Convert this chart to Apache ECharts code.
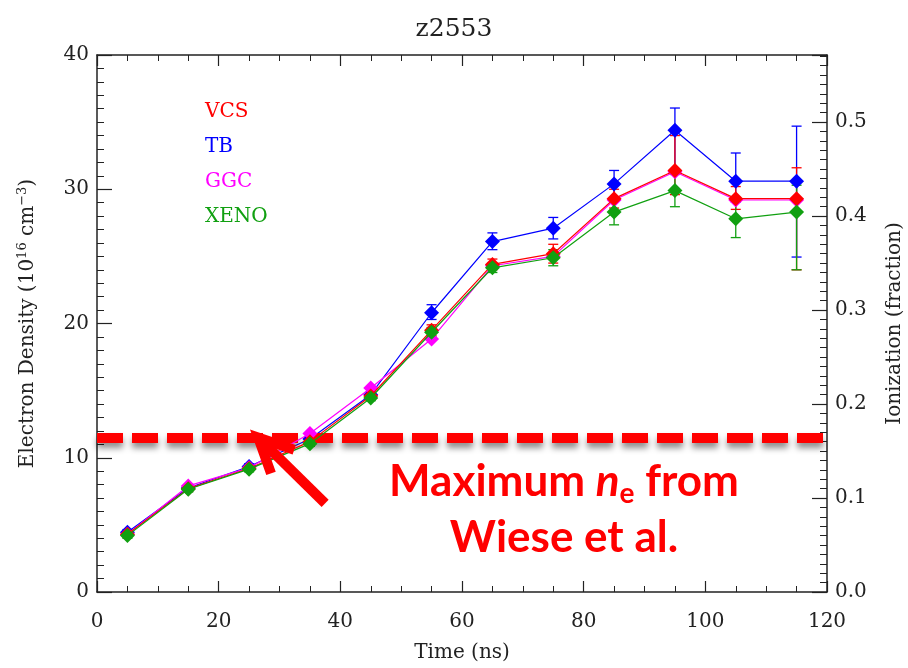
<!DOCTYPE html>
<html>
<head>
<meta charset="utf-8">
<script src="https://cdn.jsdelivr.net/npm/echarts@6/dist/echarts.min.js"></script>
<style>html,body{margin:0;padding:0;background:#fff}#c{width:908px;height:668px}</style>
</head>
<body>
<div id="c"></div>
<script>
// ---- data ----
const times = [5, 15, 25, 35, 45, 55, 65, 75, 85, 95, 105, 115];
const vcs   = [4.3, 7.7, 9.2, 11.2, 14.6, 19.5, 24.4, 25.2, 29.3, 31.4, 29.3, 29.3];
const vcsLo = [4.1, 7.5, 9.0, 11.0, 14.4, 19.1, 24.0, 24.5, 28.6, 29.6, 28.5, 24.0];
const vcsHi = [4.5, 7.9, 9.4, 11.4, 14.8, 19.9, 24.8, 25.9, 30.0, 34.0, 30.2, 31.6];
const tb    = [4.45, 7.75, 9.35, 11.4, 14.7, 20.8, 26.1, 27.1, 30.4, 34.4, 30.6, 30.6];
const tbLo  = [4.25, 7.55, 9.15, 11.2, 14.5, 20.3, 25.5, 26.3, 29.3, 31.3, 29.05, 24.95];
const tbHi  = [4.65, 7.95, 9.55, 11.6, 14.9, 21.4, 26.75, 27.9, 31.4, 36.05, 32.7, 34.7];
const ggc   = [4.3, 7.9, 9.25, 11.8, 15.2, 18.85, 24.3, 25.0, 29.2, 31.3, 29.2, 29.2];
const xeno  = [4.2, 7.65, 9.15, 11.05, 14.45, 19.35, 24.15, 24.9, 28.3, 29.9, 27.8, 28.3];
const xenoLo= [4.0, 7.45, 8.95, 10.85, 14.25, 19.0, 23.8, 24.3, 27.35, 28.7, 26.4, 24.0];
const xenoHi= [4.4, 7.85, 9.35, 11.25, 14.65, 19.7, 24.5, 25.5, 29.2, 31.1, 29.4, 30.3];
const seriesNames = ['VCS', 'TB', 'GGC', 'XENO'];
const xTicks = [0, 20, 40, 60, 80, 100, 120];
const yTicks = [0, 10, 20, 30, 40];
const ionTicks = [0.0, 0.1, 0.2, 0.3, 0.4, 0.5];
const maxNe = 11.47;           // Wiese et al. maximum
const arrowTip = [26.5, 11.5];
const arrowTail = [37.5, 6.6];
const ionPerDensity = 0.1 / 7; // 0.1 ionization fraction per 7e16 cm^-3

const colors = {VCS: '#ff0000', TB: '#0000ff', GGC: '#ff00ff', XENO: '#11a011'};
const serif = '"DejaVu Serif", "Liberation Serif", serif';

function pairs(v) { return times.map((t, i) => [t, v[i]]); }
function errData(lo, hi) { return times.map((t, i) => [t, lo[i], hi[i]]); }

function errSeries(name, lo, hi) {
  return {
    type: 'custom', name: name, z: 3,
    data: errData(lo, hi),
    renderItem: function (params, api) {
      const x = api.value(0);
      const p1 = api.coord([x, api.value(1)]);
      const p2 = api.coord([x, api.value(2)]);
      const w = 5;
      const st = {stroke: colors[name], lineWidth: 1.3};
      return {type: 'group', children: [
        {type: 'line', shape: {x1: p1[0], y1: p1[1], x2: p2[0], y2: p2[1]}, style: st},
        {type: 'line', shape: {x1: p1[0] - w, y1: p1[1], x2: p1[0] + w, y2: p1[1]}, style: st},
        {type: 'line', shape: {x1: p2[0] - w, y1: p2[1], x2: p2[0] + w, y2: p2[1]}, style: st}
      ]};
    }
  };
}
function lineSeries(name, v, z) {
  return {
    type: 'line', name: name, data: pairs(v), z: z,
    symbol: 'diamond', symbolSize: 15,
    lineStyle: {color: colors[name], width: 1.2},
    itemStyle: {color: colors[name]},
    animation: false
  };
}

const chart = echarts.init(document.getElementById('c'));
const tickLabel = {fontFamily: serif, fontSize: 20, color: '#222'};
const axLine = {onZero: false, lineStyle: {color: '#222', width: 1.5}};

const option = {
  animation: false,
  backgroundColor: '#fff',
  title: {text: 'z2553', left: 'center', top: 12,
    textStyle: {fontFamily: serif, fontWeight: 'normal', fontSize: 25, color: '#222'}},
  legend: {
    orient: 'vertical', left: 200, top: 97, itemGap: 15,
    itemWidth: 0, itemHeight: 0, icon: 'rect',
    data: seriesNames.map(n => ({name: n, textStyle: {color: colors[n]}})),
    textStyle: {fontFamily: serif, fontSize: 20, padding: [0, 0, 0, -5]},
    selectedMode: false
  },
  grid: {left: 97, right: 81, top: 55, bottom: 76, containLabel: false, outerBoundsMode: 'none'},
  xAxis: [{
    type: 'value', min: 0, max: 120, interval: 20, position: 'bottom',
    name: 'Time (ns)', nameLocation: 'middle', nameGap: 51,
    nameTextStyle: {fontFamily: serif, fontSize: 20, color: '#222'},
    axisLine: axLine,
    axisTick: {inside: true, length: 11, lineStyle: {color: '#222', width: 1.2}},
    minorTick: {show: true, splitNumber: 4, length: 6, lineStyle: {color: '#222', width: 1}},
    splitLine: {show: false},
    axisLabel: Object.assign({margin: 20, formatter: v => xTicks.includes(v) ? String(v) : ''}, tickLabel)
  }, {
    type: 'value', min: 0, max: 120, interval: 20, position: 'top',
    axisLine: axLine,
    axisTick: {inside: true, length: 11, lineStyle: {color: '#222', width: 1.2}},
    minorTick: {show: true, splitNumber: 4, length: 6, lineStyle: {color: '#222', width: 1}},
    splitLine: {show: false}, axisLabel: {show: false}
  }],
  yAxis: [{
    type: 'value', min: 0, max: 40, interval: 10, position: 'left',
    name: 'Electron Density (10{sup|16} cm{sup|−3})', nameLocation: 'middle', nameGap: 58,
    nameTextStyle: {fontFamily: serif, fontSize: 20, color: '#222',
      rich: {sup: {fontFamily: serif, fontSize: 13, verticalAlign: 'top', padding: [0, 0, 10, 0], color: '#222'}}},
    axisLine: axLine,
    axisTick: {inside: true, length: 15, lineStyle: {color: '#222', width: 1.2}},
    minorTick: {show: true, splitNumber: 10, length: 7, lineStyle: {color: '#222', width: 1}},
    splitLine: {show: false},
    axisLabel: Object.assign({margin: 8, formatter: v => yTicks.includes(v) ? String(v) : ''}, tickLabel)
  }, {
    type: 'value', min: 0, max: 40 * ionPerDensity, interval: 0.1, position: 'right',
    name: 'Ionization (fraction)', nameLocation: 'middle', nameGap: 58, nameRotate: 90,
    nameTextStyle: {fontFamily: serif, fontSize: 20, color: '#222'},
    axisLine: Object.assign({show: true}, axLine),
    axisTick: {show: true, inside: true, length: 15, lineStyle: {color: '#222', width: 1.2}},
    minorTick: {show: true, splitNumber: 10, length: 7, lineStyle: {color: '#222', width: 1}},
    splitLine: {show: false},
    axisLabel: Object.assign({margin: 8, showMaxLabel: false,
      formatter: v => {const m = ionTicks.find(t => Math.abs(t - v) < 1e-6); return m === undefined ? '' : m.toFixed(1);}},
      tickLabel)
  }],
  series: [
    errSeries('TB', tbLo, tbHi),
    lineSeries('TB', tb, 4),
    lineSeries('GGC', ggc, 5),
    errSeries('VCS', vcsLo, vcsHi),
    lineSeries('VCS', vcs, 6),
    errSeries('XENO', xenoLo, xenoHi),
    lineSeries('XENO', xeno, 7),
    {
      type: 'line', name: 'maxNe', data: [], z: 8,
      markLine: {
        silent: true, symbol: ['none', 'none'], label: {show: false},
        lineStyle: {color: '#ff0000', width: 10, type: [26, 9], shadowColor: 'rgba(0,0,0,0.45)', shadowBlur: 6, shadowOffsetY: 5},
        data: [{yAxis: maxNe}]
      }
    }
  ]
};
chart.setOption(option);

// annotation arrow + text
const tip = chart.convertToPixel({xAxisIndex: 0, yAxisIndex: 0}, arrowTip);
const tail = chart.convertToPixel({xAxisIndex: 0, yAxisIndex: 0}, arrowTail);
const ang = Math.atan2(tail[1] - tip[1], tail[0] - tip[0]);
const hl = 38, ha = 0.45;
const b1 = [tip[0] + hl * Math.cos(ang + ha), tip[1] + hl * Math.sin(ang + ha)];
const b2 = [tip[0] + hl * Math.cos(ang - ha), tip[1] + hl * Math.sin(ang - ha)];
const arrowStyle = {stroke: '#ff0000', lineWidth: 10, lineCap: 'butt', lineJoin: 'miter'};
chart.setOption({
  graphic: [
    {type: 'line', z: 100, shape: {x1: tail[0], y1: tail[1], x2: tip[0] + 4 * Math.cos(ang), y2: tip[1] + 4 * Math.sin(ang)}, style: arrowStyle},
    {type: 'polyline', z: 100, shape: {points: [b1, tip, b2]}, style: Object.assign({fill: null}, arrowStyle)},
    {type: 'text', z: 100, x: 564, y: 456,
      style: {text: 'Maximum {it|n}{sub|e} from', fill: '#ff0000', font: 'bold 44px Lato, "Open Sans", sans-serif', align: 'center',
        rich: {it: {font: 'italic bold 44px Lato, sans-serif', fill: '#ff0000'},
               sub: {font: 'bold 28px Lato, sans-serif', fill: '#ff0000', padding: [24, 0, 0, 0]}}}},
    {type: 'text', z: 100, x: 564, y: 516,
      style: {text: 'Wiese et al.', fill: '#ff0000', font: 'bold 44px Lato, "Open Sans", sans-serif', align: 'center'}}
  ]
});
</script>
</body>
</html>
